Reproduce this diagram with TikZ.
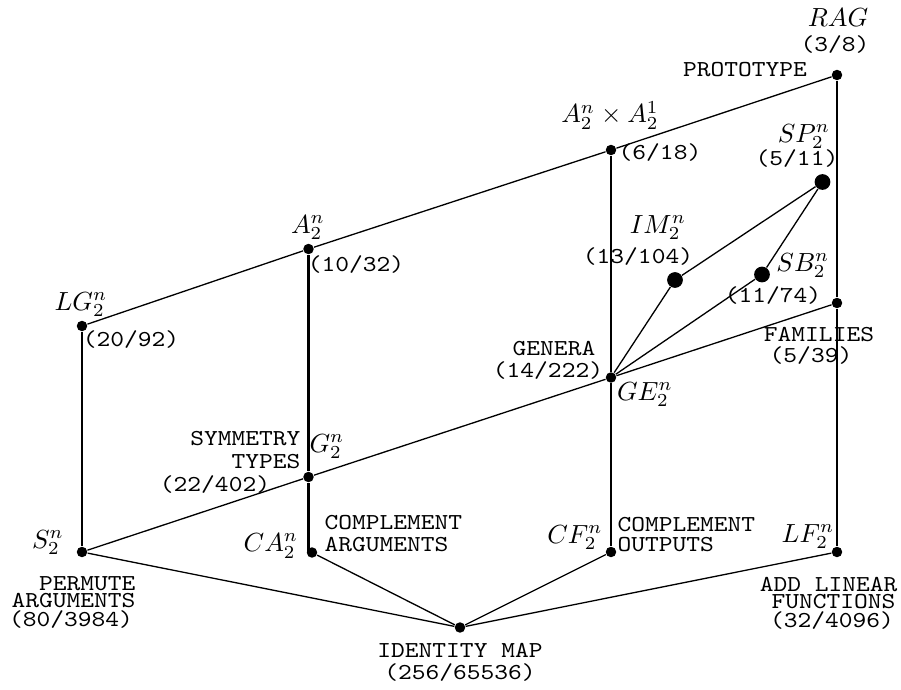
\documentclass[tikz,border=0pt]{standalone}
\usepackage{graphicx}
\newcommand{\vtt}[1]{\scalebox{1}[0.87]{\ttfamily #1}}
\begin{document}
\begin{tikzpicture}[x=0.3817pt,y=-0.3817pt,
  dot/.style={circle,fill=black,draw=none,inner sep=0pt,minimum size=4pt},
  bigdot/.style={circle,fill=black,draw=none,inner sep=0pt,minimum size=6pt},
  thickln/.style={line width=0.8pt},
  thinln/.style={line width=0.5pt},
  lbl/.style={inner sep=0pt},
  mth/.style={inner sep=0pt,anchor=base}]
\useasboundingbox (0,0) rectangle (901,690);
% points
\node[dot] (rag) at (837,75) {};
\node[dot] (axa) at (611,150) {};
\node[dot] (a) at (308.5,249) {};
\node[dot] (lg) at (82,326) {};
\node[bigdot] (sp) at (822.5,182) {};
\node[bigdot] (im) at (675,280) {};
\node[bigdot] (sb) at (762,274.5) {};
\node[dot] (fam) at (837,303) {};
\node[dot] (ge) at (611,377.5) {};
\node[dot] (g) at (308.5,477) {};
\node[dot] (s) at (82,552) {};
\node[dot] (ca) at (312,552.5) {};
\node[dot] (cf) at (611,552) {};
\node[dot] (lf) at (837,552) {};
\node[dot] (id) at (460,627.5) {};
% connectors
\draw[thinln] (lg) -- (a) -- (axa) -- (rag);
\draw[thinln] (s) -- (g) -- (ge) -- (fam);
\draw[thickln] (lg) -- (s);
\draw[thickln] (a) -- (g) -- (g |- ca);
\draw[thickln] (axa) -- (ge) -- (cf);
\draw[thickln] (rag) -- (fam) -- (lf);
\draw[thinln] (ge) -- (im) -- (sp);
\draw[thinln] (ge) -- (sb) -- (sp);
\draw[thinln] (id) -- (s);
\draw[thinln] (id) -- (ca);
\draw[thinln] (id) -- (cf);
\draw[thinln] (id) -- (lf);
% labels
\node[mth] (ragl) at (838,26) {$RAG$};
\node[lbl] (ragn) at (835,45) {\vtt{(3/8)}};
\node[lbl] (proto) at (745,70) {\vtt{PROTOTYPE}};
\node[mth] (axal) at (610,122.7) {$A_2^n\times A_2^1$};
\node[lbl] (axan) at (660,153) {\vtt{(6/18)}};
\node[mth] (spl) at (804,142) {$SP_2^n$};
\node[lbl] (spn) at (797,159) {\vtt{(5/11)}};
\node[mth] (iml) at (658,233) {$IM_2^n$};
\node[lbl] (imn) at (638,257) {\vtt{(13/104)}};
\node[mth] (sbl) at (803,271) {$SB_2^n$};
\node[lbl] (sbn) at (773,296) {\vtt{(11/74)}};
\node[lbl] (faml) at (819,335) {\vtt{FAMILIES}};
\node[lbl] (famn) at (811,356) {\vtt{(5/39)}};
\node[lbl] (gena) at (554,349) {\vtt{GENERA}};
\node[lbl] (gen) at (548,371) {\vtt{(14/222)}};
\node[mth] (gel) at (645,400) {$GE_2^n$};
\node[mth] (al) at (308,233) {$A_2^n$};
\node[lbl] (an) at (356,265) {\vtt{(10/32)}};
\node[mth] (lgl) at (81,310) {$LG_2^n$};
\node[lbl] (lgn) at (131,340) {\vtt{(20/92)}};
\node[lbl,anchor=east] (sym1) at (301,439) {\vtt{SYMMETRY}};
\node[lbl,anchor=east] (sym2) at (301,461.5) {\vtt{TYPES}};
\node[lbl] (gn) at (215,485) {\vtt{(22/402)}};
\node[mth] (gl) at (327,452) {$G_2^n$};
\node[lbl,anchor=west] (ca1) at (324,523) {\vtt{COMPLEMENT}};
\node[lbl,anchor=west] (ca2) at (324,545) {\vtt{ARGUMENTS}};
\node[mth] (cal) at (271,551.5) {$CA_2^n$};
\node[mth] (cfl) at (575,543) {$CF_2^n$};
\node[lbl,anchor=west] (cf1) at (617,525) {\vtt{COMPLEMENT}};
\node[lbl,anchor=west] (cf2) at (617,545) {\vtt{OUTPUTS}};
\node[mth] (lfl) at (808,542) {$LF_2^n$};
\node[lbl,anchor=east] (lf1) at (898,585) {\vtt{ADD LINEAR}};
\node[lbl,anchor=east] (lf2) at (896,601.5) {\vtt{FUNCTIONS}};
\node[lbl] (lfn) at (832,621) {\vtt{(32/4096)}};
\node[lbl,anchor=east] (s1) at (136,583.5) {\vtt{PERMUTE}};
\node[lbl,anchor=east] (s2) at (136,600.5) {\vtt{ARGUMENTS}};
\node[lbl] (sn) at (71,620) {\vtt{(80/3984)}};
\node[mth] (sl) at (48,548) {$S_2^n$};
\node[lbl] (id1) at (460,650.5) {\vtt{IDENTITY MAP}};
\node[lbl] (idn) at (460,673) {\vtt{(256/65536)}};
\end{tikzpicture}
\end{document}
